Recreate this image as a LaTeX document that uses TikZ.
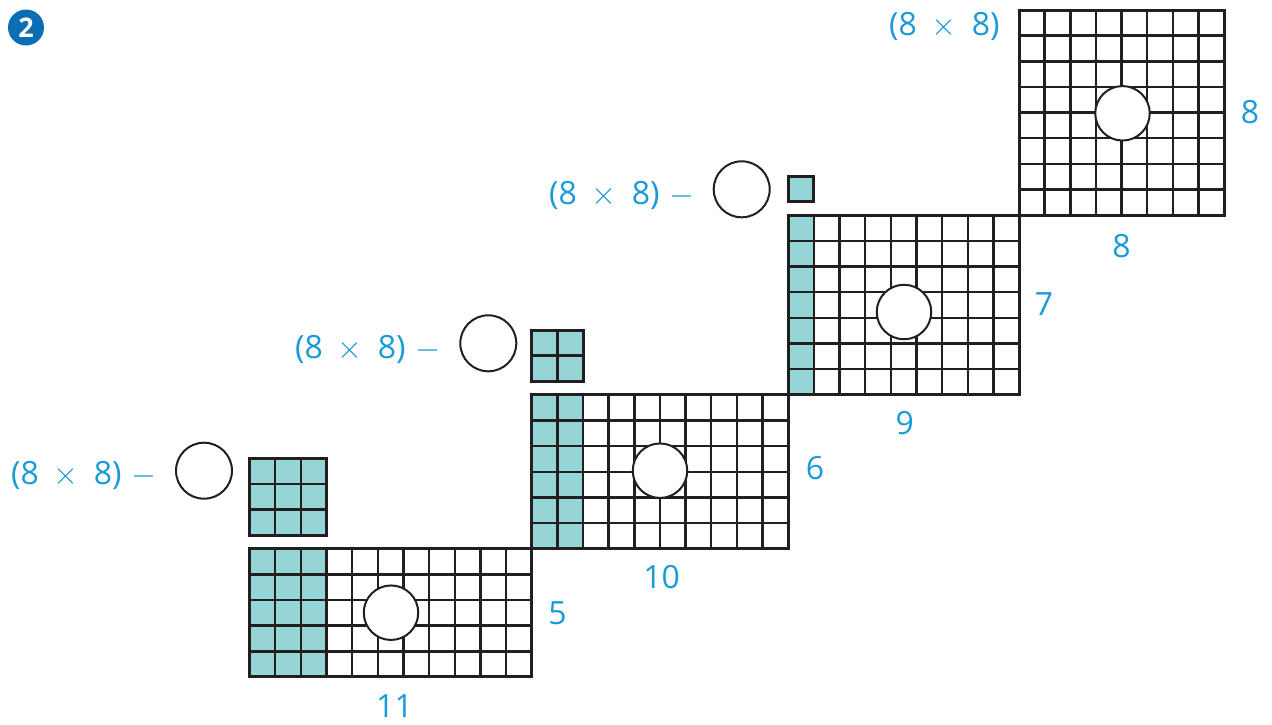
\documentclass[tikz,border=0pt]{standalone}
\usepackage{fix-cm}
\usepackage{fontspec}
\setmainfont{Open Sans}
\definecolor{txtblue}{HTML}{1A9AD7}
\definecolor{teal}{HTML}{95D5D5}
\definecolor{badge}{HTML}{0B6DB3}
\definecolor{ink}{HTML}{231F20}
\def\cs{25.65}
\newcommand\mygrid[5]{%
  \begin{scope}[shift={(#1,#2)}]
    \ifnum#5>0 \fill[teal] (0,0) rectangle (#5*\cs,#4*\cs);\fi
    \foreach \i in {0,...,#3} \draw[gridline] (\i*\cs,0) -- (\i*\cs,#4*\cs);
    \foreach \j in {0,...,#4} \draw[gridline] (0,\j*\cs) -- (#3*\cs,\j*\cs);
    \draw[gridborder] (0,0) rectangle (#3*\cs,#4*\cs);
  \end{scope}}
\newcommand\prodtxt{(8\hspace{15pt}$\times$\hspace{15pt}8)}
\newcommand\expr{\prodtxt\hspace{10pt}$-$}
\begin{document}
\begin{tikzpicture}[x=1pt,y=-1pt,
  gridline/.style={draw=ink,line width=2.4pt},
  gridborder/.style={draw=ink,line width=3pt},
  hole/.style={circle,draw=ink,line width=2pt,fill=white,minimum size=54.5pt,inner sep=0pt},
  lbl/.style={text=txtblue,font=\fontsize{32}{38}\selectfont,inner sep=0pt},
  exprlbl/.style={lbl,anchor=base west}]
\useasboundingbox (0,0) rectangle (1272,724);
% badge
\node[circle,fill=badge,minimum size=36pt,inner sep=0pt,text=white,font=\fontsize{27}{30}\selectfont\bfseries] (badge) at (26,27.5) {2};
% grids
\mygrid{1019}{10}{8}{8}{0}
\mygrid{788.2}{215.2}{9}{7}{1}
\mygrid{531.7}{394.8}{10}{6}{2}
\mygrid{249.5}{548.7}{11}{5}{3}
% small squares
\mygrid{788.2}{176.05}{1}{1}{1}
\mygrid{531.7}{330}{2}{2}{2}
\mygrid{249.5}{458.25}{3}{3}{3}
% holes in grids
\node[hole] (h1) at (1122.5,113.3) {};
\node[hole] (h2) at (904,312) {};
\node[hole] (h3) at (660,470.7) {};
\node[hole] (h4) at (391,612.7) {};
% expression circles
\node[hole,minimum size=56pt] (e2) at (741.7,189.3) {};
\node[hole,minimum size=56pt] (e3) at (488.3,343.3) {};
\node[hole,minimum size=56pt] (e4) at (204,470.7) {};
% expressions
\node[exprlbl] (t1) at (889,35) {\prodtxt};
\node[exprlbl] (t2) at (549,204) {\expr};
\node[exprlbl] (t3) at (295,358.3) {\expr};
\node[exprlbl] (t4) at (11,484.3) {\expr};
% dimension labels
\node[lbl] (l1r) at (1250,111.7) {8};
\node[lbl] (l1b) at (1121.5,246) {8};
\node[lbl] (l2r) at (1044,304.5) {7};
\node[lbl] (l2b) at (904.7,423) {9};
\node[lbl] (l3r) at (815,468.3) {6};
\node[lbl] (l3b) at (661.7,576.7) {10};
\node[lbl] (l4r) at (557.5,613.3) {5};
\node[lbl] (l4b) at (394.5,706) {11};
\end{tikzpicture}
\end{document}
